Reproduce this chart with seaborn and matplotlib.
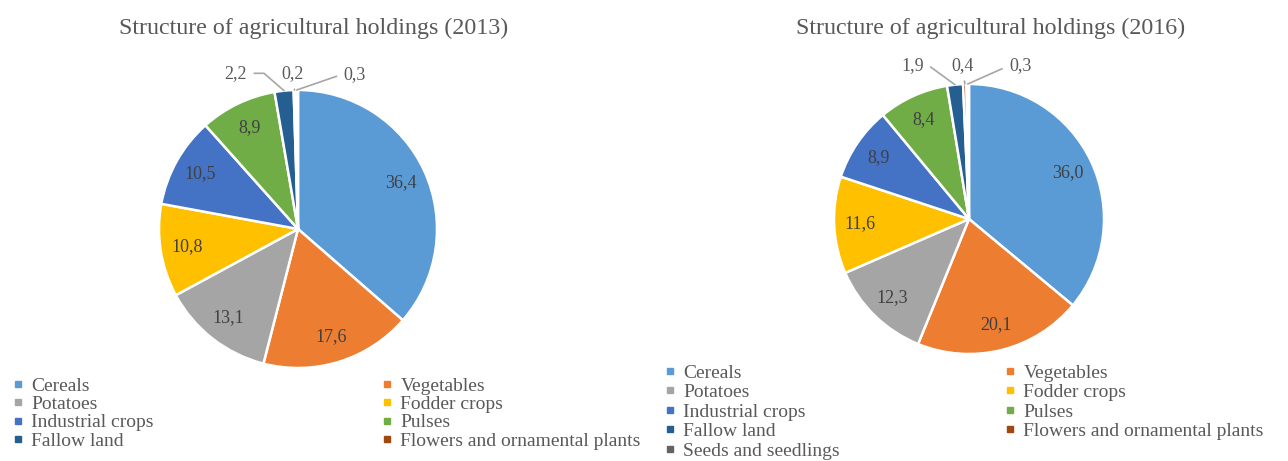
import matplotlib
matplotlib.use("Agg")
import matplotlib.pyplot as plt
import seaborn as sns
import numpy as np
from matplotlib.lines import Line2D

# ---------------- data ----------------
categories = ["Cereals", "Vegetables", "Potatoes", "Fodder crops", "Industrial crops",
              "Pulses", "Fallow land", "Flowers and ornamental plants", "Seeds and seedlings"]
values_2013 = [36.4, 17.6, 13.1, 10.8, 10.5, 8.9, 2.2, 0.2, 0.3]
values_2016 = [36.0, 20.1, 12.3, 11.6, 8.9, 8.4, 1.9, 0.4, 0.3]
legend_2013 = categories[:8]
legend_2016 = categories[:]
titles = ["Structure of agricultural holdings (2013)",
          "Structure of agricultural holdings (2016)"]
colors = ["#5B9BD5", "#ED7D31", "#A5A5A5", "#FFC000", "#4472C4",
          "#70AD47", "#255E91", "#9E480E", "#636363"]

# ---------------- style ----------------
sns.set_theme(style="white")
plt.rcParams['font.family'] = ['Liberation Serif', 'DejaVu Serif']
TXT = "#595959"
LBL = "#404040"

W, H = 1288, 461
fig = plt.figure(figsize=(W / 100, H / 100), dpi=100)
palette = sns.color_palette(colors)


def px_axes(cx, cy, r):
    return fig.add_axes([(cx - r) / W, 1 - (cy + r) / H, 2 * r / W, 2 * r / H])


def fmt(v):
    return f"{v:.1f}".replace(".", ",")


def draw(cx, cy, r, values, title, title_x, small_pos):
    ax = px_axes(cx, cy, r)
    wedges, _ = ax.pie(values, colors=palette[:len(values)], startangle=90,
                       counterclock=False,
                       wedgeprops=dict(edgecolor="white", linewidth=1.8))
    ax.set_xlim(-1, 1)
    ax.set_ylim(-1, 1)
    ax.set_aspect("equal")
    k = 0
    for w, v in zip(wedges, values):
        mid = np.deg2rad((w.theta1 + w.theta2) / 2)
        if v >= 5:
            ax.text(0.81 * np.cos(mid), 0.81 * np.sin(mid), fmt(v),
                    ha="center", va="center", fontsize=13, color=LBL)
        else:
            tx, ty, angb = small_pos[k]
            k += 1
            cs = "arc3" if angb is None else f"angle,angleA=0,angleB={angb},rad=0"
            ax.annotate(fmt(v), xy=(np.cos(mid), np.sin(mid)), xytext=(tx, ty),
                        ha="center", va="center", fontsize=13, color=TXT,
                        arrowprops=dict(arrowstyle="-", color="#A6A6A6", lw=1.2,
                                        shrinkA=3, shrinkB=0,
                                        connectionstyle=cs))
    fig.text(title_x / W, 1 - 28 / H, title, ha="center", va="center",
             fontsize=17.3, color=TXT)
    return ax


draw(298, 229, 139, values_2013, titles[0], 314,
     [(-0.45, 1.12, 139), (-0.036, 1.12, None), (0.41, 1.11, 19)])
draw(969, 219, 135, values_2016, titles[1], 991,
     [(-0.42, 1.14, 144), (-0.044, 1.14, None), (0.38, 1.14, 24)])


def legend_col(labels, idxs, left_px, top_px, spacing):
    handles = [Line2D([], [], marker="s", markersize=5, linestyle="",
                      color=palette[i]) for i in idxs]
    fig.legend(handles, [labels[i] for i in idxs], loc="upper left",
               bbox_to_anchor=(left_px / W, 1 - top_px / H), frameon=False,
               fontsize=14, labelcolor=TXT, handlelength=0.6,
               handletextpad=0.4, labelspacing=spacing, borderpad=0,
               borderaxespad=0)


legend_col(legend_2013, [0, 2, 4, 6], 12, 377, 0.04)
legend_col(legend_2013, [1, 3, 5, 7], 381, 377, 0.04)
legend_col(legend_2016, [0, 2, 4, 6, 8], 664, 364, 0.1)
legend_col(legend_2016, [1, 3, 5, 7], 1004, 364, 0.1)

fig.savefig("out.png", dpi=100, facecolor="white")
